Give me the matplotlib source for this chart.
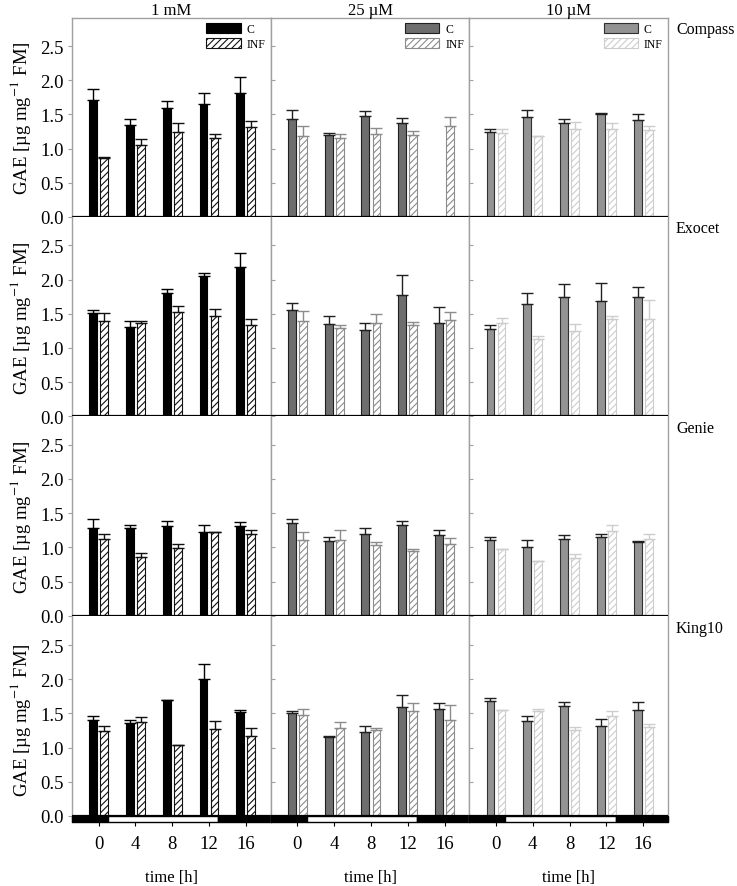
import numpy as np
import matplotlib
matplotlib.use("Agg")
import matplotlib.pyplot as plt
from matplotlib.patches import Rectangle, Patch

plt.rcParams['font.family'] = ['Liberation Serif', 'DejaVu Serif']
plt.rcParams['mathtext.fontset'] = 'stix'
plt.rcParams['hatch.linewidth'] = 0.8

times = [0, 4, 8, 12, 16]
concentrations = ['1 mM', '25 µM', '10 µM']
cultivars = ['Compass', 'Exocet', 'Genie', 'King10']
light_period = (1, 13)

# rows: concentration (1 mM, 25 µM, 10 µM); columns: time 0..16 h
compass_c = [[1.71, 1.35, 1.60, 1.65, 1.82],
             [1.43, 1.20, 1.47, 1.38, np.nan],
             [1.24, 1.46, 1.38, 1.50, 1.42]]
compass_c_err = [[0.16, 0.08, 0.10, 0.17, 0.22],
                 [0.13, 0.03, 0.08, 0.07, 0.0],
                 [0.05, 0.11, 0.05, 0.02, 0.09]]
compass_inf = [[0.87, 1.06, 1.25, 1.15, 1.32],
               [1.18, 1.16, 1.21, 1.20, 1.33],
               [1.23, 1.19, 1.29, 1.29, 1.27]]
compass_inf_err = [[0.01, 0.08, 0.12, 0.07, 0.09],
                   [0.15, 0.06, 0.09, 0.06, 0.13],
                   [0.06, 0.0, 0.10, 0.08, 0.06]]

exocet_c = [[1.51, 1.31, 1.81, 2.05, 2.18],
            [1.56, 1.35, 1.26, 1.77, 1.37],
            [1.27, 1.64, 1.75, 1.69, 1.75]]
exocet_c_err = [[0.04, 0.08, 0.05, 0.05, 0.21],
                [0.09, 0.11, 0.10, 0.30, 0.23],
                [0.06, 0.16, 0.19, 0.26, 0.14]]
exocet_inf = [[1.40, 1.37, 1.52, 1.47, 1.33],
              [1.39, 1.29, 1.36, 1.34, 1.41],
              [1.36, 1.13, 1.25, 1.43, 1.42]]
exocet_inf_err = [[0.11, 0.02, 0.10, 0.10, 0.09],
                  [0.15, 0.04, 0.14, 0.04, 0.12],
                  [0.08, 0.04, 0.10, 0.04, 0.28]]

genie_c = [[1.28, 1.28, 1.31, 1.22, 1.31],
           [1.35, 1.09, 1.19, 1.33, 1.18],
           [1.11, 1.00, 1.12, 1.15, 1.08]]
genie_c_err = [[0.14, 0.05, 0.07, 0.10, 0.06],
               [0.06, 0.06, 0.09, 0.06, 0.08],
               [0.04, 0.10, 0.06, 0.05, 0.01]]
genie_inf = [[1.12, 0.86, 0.99, 1.23, 1.19],
             [1.10, 1.11, 1.04, 0.94, 1.05],
             [0.97, 0.80, 0.85, 1.24, 1.12]]
genie_inf_err = [[0.08, 0.05, 0.06, 0.0, 0.07],
                 [0.13, 0.15, 0.04, 0.04, 0.09],
                 [0.0, 0.0, 0.05, 0.08, 0.08]]

king10_c = [[1.41, 1.36, 1.70, 2.01, 1.52],
            [1.50, 1.16, 1.23, 1.60, 1.56],
            [1.68, 1.39, 1.61, 1.32, 1.55]]
king10_c_err = [[0.05, 0.04, 0.0, 0.22, 0.03],
                [0.04, 0.01, 0.08, 0.17, 0.09],
                [0.05, 0.07, 0.05, 0.10, 0.11]]
king10_inf = [[1.24, 1.37, 1.04, 1.27, 1.17],
              [1.47, 1.29, 1.26, 1.54, 1.40],
              [1.55, 1.53, 1.26, 1.46, 1.30]]
king10_inf_err = [[0.07, 0.08, 0.0, 0.12, 0.12],
                  [0.10, 0.08, 0.02, 0.11, 0.22],
                  [0.0, 0.04, 0.04, 0.08, 0.05]]

c_means = [compass_c, exocet_c, genie_c, king10_c]
c_errs = [compass_c_err, exocet_c_err, genie_c_err, king10_c_err]
inf_means = [compass_inf, exocet_inf, genie_inf, king10_inf]
inf_errs = [compass_inf_err, exocet_inf_err, genie_inf_err, king10_inf_err]

# styles per concentration column
c_face = ['black', '#6e6e6e', '#939393']
c_edge = ['black', '#202020', '#303030']
c_errc = ['black', '#202020', '#202020']
inf_hatch = ['#111111', '#8c8c8c', '#cdcdcd']

W, H = 737, 887
fig = plt.figure(figsize=(W / 100, H / 100), dpi=100)

x0, x1 = 72, 668
colw = (x1 - x0) / 3
zero_lines = [218, 417.3, 616.7, 817]
row_h = 199.0
band_px = 6
ylim_top = 2.91
xlim = (-2.9, 18.7)
gray = '#a0a0a0'
offset = 0.6
bw = 0.85

t = np.array(times, dtype=float)

for r in range(4):
    for c in range(3):
        top_px = zero_lines[r] - row_h
        bot_px = zero_lines[r] + (band_px if r == 3 else 0)
        left = (x0 + c * colw) / W
        bottom = 1 - bot_px / H
        height = (bot_px - top_px) / H
        ax = fig.add_axes([left, bottom, colw / W, height])
        ybot = -band_px / (row_h / ylim_top) if r == 3 else 0
        ax.set_ylim(ybot, ylim_top)
        ax.set_xlim(*xlim)

        cm = np.array(c_means[r][c], dtype=float)
        ce = np.array(c_errs[r][c], dtype=float)
        im = np.array(inf_means[r][c], dtype=float)
        ie = np.array(inf_errs[r][c], dtype=float)

        ax.bar(t - offset, cm, bw, color=c_face[c], edgecolor=c_edge[c],
               linewidth=0.8, zorder=2, label='C')
        ax.bar(t + offset, im, bw, color='white', edgecolor=inf_hatch[c],
               hatch='/////', linewidth=0.8, zorder=2, label='INF')
        ok = ~np.isnan(cm)
        ax.errorbar((t - offset)[ok], cm[ok], yerr=[np.zeros(ok.sum()), ce[ok]],
                    fmt='none', ecolor=c_errc[c], elinewidth=1.0, capsize=4,
                    capthick=1.0, zorder=3)
        ax.errorbar(t + offset, im, yerr=[np.zeros(len(im)), ie],
                    fmt='none', ecolor=inf_hatch[c], elinewidth=1.0, capsize=4,
                    capthick=1.0, zorder=3)

        ax.axhline(0, color='black', linewidth=1.6, zorder=4)

        for side in ['left', 'right', 'top', 'bottom']:
            ax.spines[side].set_color(gray)
            ax.spines[side].set_linewidth(1.0)
        ax.spines['bottom'].set_visible(False)
        if r > 0:
            ax.spines['top'].set_visible(False)

        ax.set_yticks([0, 0.5, 1.0, 1.5, 2.0, 2.5])
        if c == 0:
            ax.set_yticklabels(['0.0', '0.5', '1.0', '1.5', '2.0', '2.5'], fontsize=13.5)
            ax.tick_params(axis='y', direction='out', length=3, color=gray, pad=3)
            ax.set_ylabel(r'GAE [µg mg$^{-1}$ FM]', fontsize=13.5, labelpad=5)
        else:
            ax.set_yticklabels([])
            ax.tick_params(axis='y', direction='in', length=3, color=gray)

        ax.set_xticks(times)
        if r == 3:
            ax.set_xticklabels([str(v) for v in times], fontsize=13.5)
            ax.tick_params(axis='x', direction='out', length=3, pad=6.5, color='black')
            ax.set_xlabel('time [h]', fontsize=12, labelpad=12)
            yb = ybot
            segs = [(xlim[0], light_period[0], 'black'),
                    (light_period[0], light_period[1], 'white'),
                    (light_period[1], xlim[1], 'black')]
            for a, b, col in segs:
                ax.add_patch(Rectangle((a, yb), b - a, -yb, facecolor=col,
                                       edgecolor='black', linewidth=1.0,
                                       zorder=5, clip_on=False))
        else:
            ax.set_xticklabels([])
            ax.tick_params(axis='x', length=0)

        if r == 0:
            ax.set_title(concentrations[c], fontsize=12, pad=3)
            handles = [Patch(facecolor=c_face[c], edgecolor=c_edge[c], linewidth=0.8),
                       Patch(facecolor='white', edgecolor=inf_hatch[c], hatch='/////',
                             linewidth=0.8)]
            ax.legend(handles, ['C', 'INF'], loc='upper right', frameon=False,
                      fontsize=8.5, handlelength=2.9, handleheight=0.9,
                      borderaxespad=0.25, handletextpad=0.5, labelspacing=0.25,
                      borderpad=0.2)
        if c == 2:
            ax.text(1.04, 0.945 if r < 3 else 0.945 * row_h / (row_h + band_px) + band_px / (row_h + band_px),
                    cultivars[r], transform=ax.transAxes, ha='left', va='center',
                    fontsize=11.5)

fig.savefig('out.png', dpi=100)
